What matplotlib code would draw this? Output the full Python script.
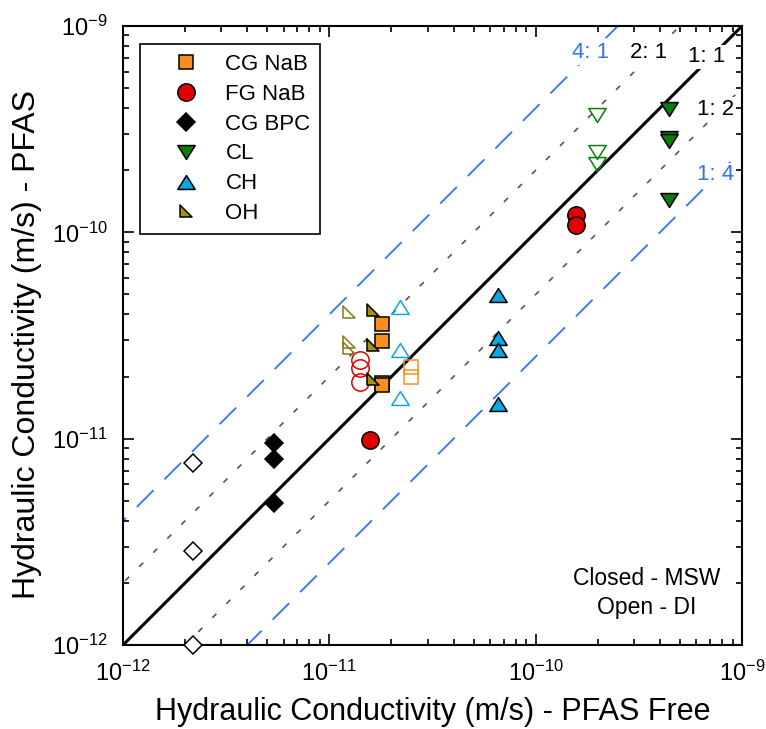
import numpy as np
import matplotlib
matplotlib.use("Agg")
import matplotlib.pyplot as plt
from matplotlib.path import Path
from matplotlib.ticker import LogLocator, NullFormatter

plt.rcParams['font.family'] = ['Liberation Sans', 'DejaVu Sans']
plt.rcParams['mathtext.fontset'] = 'custom'
plt.rcParams['mathtext.rm'] = 'Liberation Sans'
plt.rcParams['mathtext.it'] = 'Liberation Sans:italic'
plt.rcParams['mathtext.bf'] = 'Liberation Sans:bold'
plt.rcParams['axes.unicode_minus'] = False

# hydraulic conductivity (m/s): PFAS free (x) vs PFAS (y)
# closed = MSW leachate, open = DI water
cgnab_msw_x = [1.8e-11, 1.8e-11, 1.8e-11, 1.8e-11]
cgnab_msw_y = [3.6e-11, 2.98e-11, 1.87e-11, 1.82e-11]
cgnab_di_x = [2.49e-11, 2.49e-11]
cgnab_di_y = [2.22e-11, 2.0e-11]

fgnab_msw_x = [1.57e-11, 1.57e-10, 1.57e-10]
fgnab_msw_y = [9.86e-12, 1.21e-10, 1.09e-10]
fgnab_di_x = [1.41e-11, 1.41e-11, 1.41e-11]
fgnab_di_y = [2.41e-11, 2.19e-11, 1.89e-11]

cgbpc_msw_x = [5.4e-12, 5.4e-12, 5.4e-12]
cgbpc_msw_y = [9.56e-12, 7.94e-12, 4.9e-12]
cgbpc_di_x = [2.18e-12, 2.18e-12, 2.18e-12]
cgbpc_di_y = [7.65e-12, 2.87e-12, 1.0e-12]

cl_msw_x = [4.44e-10, 4.44e-10, 4.44e-10, 4.44e-10]
cl_msw_y = [3.95e-10, 2.86e-10, 2.78e-10, 1.44e-10]
cl_di_x = [1.98e-10, 1.98e-10, 1.98e-10]
cl_di_y = [3.71e-10, 2.44e-10, 2.15e-10]

ch_msw_x = [6.6e-11, 6.6e-11, 6.6e-11, 6.6e-11]
ch_msw_y = [4.97e-11, 3.07e-11, 2.69e-11, 1.48e-11]
ch_di_x = [2.2e-11, 2.2e-11, 2.2e-11]
ch_di_y = [4.33e-11, 2.69e-11, 1.57e-11]

oh_msw_x = [1.62e-11, 1.62e-11, 1.62e-11]
oh_msw_y = [4.2e-11, 2.85e-11, 1.94e-11]
oh_di_x = [1.24e-11, 1.24e-11, 1.24e-11]
oh_di_y = [4.1e-11, 2.95e-11, 2.74e-11]

decades = [1e-12, 1e-11, 1e-10, 1e-9]
ratios = [4, 2, 1, 0.5, 0.25]
ratio_labels = ['4: 1', '2: 1', '1: 1', '1: 2', '1: 4']

# flattened triangles and a right triangle for OH
tri_up = Path([(0, 0.8), (-1, -0.8), (1, -0.8), (0, 0.8)],
              [Path.MOVETO, Path.LINETO, Path.LINETO, Path.CLOSEPOLY])
tri_down = Path([(0, -0.8), (-1, 0.8), (1, 0.8), (0, -0.8)],
                [Path.MOVETO, Path.LINETO, Path.LINETO, Path.CLOSEPOLY])
oh_marker = Path([(-1, 1), (-1, -1), (1, -1), (-1, 1)],
                 [Path.MOVETO, Path.LINETO, Path.LINETO, Path.CLOSEPOLY])

fig = plt.figure(figsize=(7.66, 7.29), dpi=100)
ax = fig.add_axes([0.1606, 0.1152, 0.8081, 0.8491])

xx = np.array([1e-13, 1e-8])
blue = '#2f74f5'
line_styles = {
    4: dict(color=blue, lw=1.3, dashes=(13, 8.6)),
    2: dict(color='#555555', lw=1.2, dashes=(3.4, 8.5)),
    1: dict(color='black', lw=2.2),
    0.5: dict(color='#555555', lw=1.2, dashes=(3.4, 8.5)),
    0.25: dict(color=blue, lw=1.3, dashes=(13, 8.6)),
}
for r in ratios:
    ax.plot(xx, r * xx, zorder=1, **line_styles[r])

# ratio labels sit on their lines
label_pos = [(1.855e-10, 7.41e-10), (3.51e-10, 7.41e-10), (6.77e-10, 7.08e-10),
             (7.41e-10, 3.96e-10), (7.41e-10, 1.90e-10)]
label_colors = [blue, 'black', 'black', 'black', blue]
for (tx, ty), lab, c in zip(label_pos, ratio_labels, label_colors):
    ax.text(tx, ty, lab, color=c, fontsize=16, ha='center', va='center', zorder=2,
            bbox=dict(facecolor='white', edgecolor='none', pad=1.0))

mew = 1.1
orange = '#f7901e'
red = '#e00000'
green = '#0a7d0a'
cyan = '#0ba8e6'
olive = '#a8900f'
olive_open = '#8a7618'

ax.plot(cgnab_msw_x, cgnab_msw_y, 's', ms=10, mfc=orange, mec='black', mew=mew, zorder=3, label='CG NaB')
ax.plot(cgnab_di_x, cgnab_di_y, 's', ms=10, mfc='none', mec=orange, mew=mew, zorder=3)
ax.plot(fgnab_msw_x, fgnab_msw_y, 'o', ms=12.5, mfc=red, mec='black', mew=mew, zorder=3, label='FG NaB')
ax.plot(fgnab_di_x, fgnab_di_y, 'o', ms=12.5, mfc='none', mec=red, mew=mew, zorder=3)
ax.plot(cgbpc_msw_x, cgbpc_msw_y, 'D', ms=9.5, mfc='black', mec='black', mew=mew, zorder=3, label='CG BPC')
ax.plot(cgbpc_di_x, cgbpc_di_y, 'D', ms=9.5, mfc='white', mec='black', mew=mew, zorder=3, clip_on=False)
ax.plot(cl_msw_x, cl_msw_y, marker=tri_down, ls='none', ms=12.5, mfc=green, mec='black', mew=mew, zorder=3, label='CL')
ax.plot(cl_di_x, cl_di_y, marker=tri_down, ls='none', ms=12.5, mfc='none', mec=green, mew=mew, zorder=3)
ax.plot(ch_msw_x, ch_msw_y, marker=tri_up, ls='none', ms=12.5, mfc=cyan, mec='black', mew=mew, zorder=3, label='CH')
ax.plot(ch_di_x, ch_di_y, marker=tri_up, ls='none', ms=12.5, mfc='none', mec=cyan, mew=mew, zorder=3)
ax.plot(oh_msw_x, oh_msw_y, marker=oh_marker, ls='none', ms=9, mfc=olive, mec='black', mew=mew, zorder=3, label='OH')
ax.plot(oh_di_x, oh_di_y, marker=oh_marker, ls='none', ms=9, mfc='none', mec=olive_open, mew=mew, zorder=3)

ax.set_xscale('log')
ax.set_yscale('log')
ax.set_xlim(decades[0], decades[-1])
ax.set_ylim(decades[0], decades[-1])
ax.set_xticks(decades)
ax.set_yticks(decades)
for axis in (ax.xaxis, ax.yaxis):
    axis.set_minor_locator(LogLocator(base=10, subs=np.arange(2, 10)))
    axis.set_minor_formatter(NullFormatter())
ax.tick_params(which='both', direction='in', top=True, right=True, width=1.2)
ax.tick_params(which='major', length=8, labelsize=17)
ax.tick_params(axis='x', which='major', pad=11)
ax.tick_params(axis='y', which='major', pad=11)
ax.tick_params(which='minor', length=4.5)
for s in ax.spines.values():
    s.set_linewidth(1.5)

ax.set_xlabel('Hydraulic Conductivity (m/s) - PFAS Free', fontsize=22)
ax.set_ylabel('Hydraulic Conductivity (m/s) - PFAS', fontsize=23)
ax.xaxis.set_label_coords(0.5, -0.084)
ax.yaxis.set_label_coords(-0.131, 0.485)

ax.text(0.846, 0.084, 'Closed - MSW\nOpen - DI', transform=ax.transAxes, fontsize=16.5,
        ha='center', va='center', linespacing=1.3)

leg = ax.legend(loc='upper left', bbox_to_anchor=(0.0275, 0.971), borderaxespad=0,
                fontsize=16, frameon=True, fancybox=False, edgecolor='black',
                framealpha=1, numpoints=1, handletextpad=0.1, labelspacing=0.4,
                borderpad=0.44, handlelength=3.3)
leg.get_frame().set_linewidth(1.2)

fig.savefig('out.png', dpi=100)
